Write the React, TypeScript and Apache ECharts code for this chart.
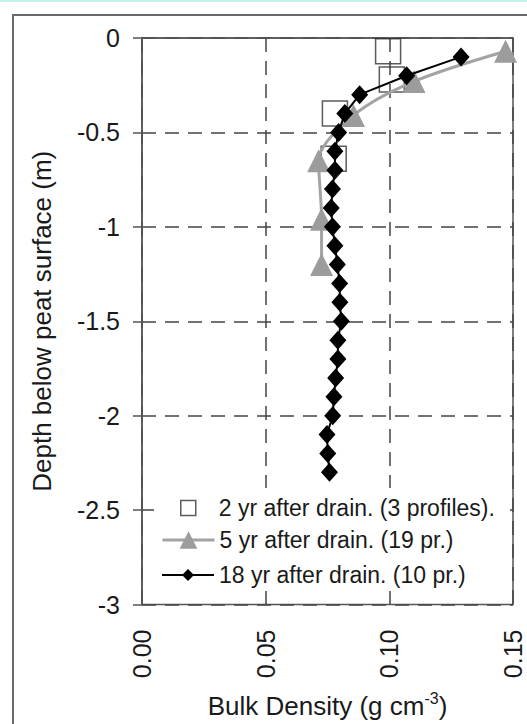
import React, { useEffect, useRef } from "react";
import * as echarts from "echarts";

// ---- data ----
const xTicks = [0, 0.05, 0.1, 0.15];
const yTicks = [0, -0.5, -1, -1.5, -2, -2.5, -3];

const seriesNames = [
  "2 yr after drain. (3 profiles).",
  "5 yr after drain. (19 pr.)",
  "18 yr after drain. (10 pr.)",
];

const twoYrDensity = [0.0995, 0.101, 0.078, 0.0775];
const twoYrDepth = [-0.07, -0.22, -0.4, -0.64];

const fiveYrDensity = [0.147, 0.110, 0.0855, 0.0714, 0.0726, 0.0726];
const fiveYrDepth = [-0.07, -0.23, -0.41, -0.65, -0.96, -1.2];

const eighteenYrDensity = [
  0.129, 0.107, 0.088, 0.082, 0.0795, 0.078, 0.078, 0.077, 0.0765, 0.077,
  0.078, 0.079, 0.0799, 0.08, 0.0806, 0.0792, 0.0792, 0.0783, 0.0776, 0.0771,
  0.0748, 0.0751, 0.0758,
];
const eighteenYrDepth = [
  -0.1, -0.2, -0.3, -0.4, -0.5, -0.6, -0.7, -0.8, -0.9, -1.0, -1.1, -1.2, -1.3,
  -1.4, -1.5, -1.6, -1.7, -1.8, -1.9, -2.0, -2.1, -2.2, -2.3,
];

const pair = (xs: number[], ys: number[]) => xs.map((x, i) => [x, ys[i]]);

const FONT = "Liberation Sans, Arial, sans-serif";
const TEXT = "#1a1a1a";
const FRAME = "#555555";

export default function App() {
  const ref = useRef<HTMLDivElement>(null);

  useEffect(() => {
    document.body.style.margin = "0";
    if (!ref.current) return;
    const chart = echarts.init(ref.current, undefined, { renderer: "svg" });

    const legendText = { fontFamily: FONT, fontSize: 23, color: TEXT, lineHeight: 26 };
    const legendBase = {
      orient: "vertical" as const,
      left: 161,
      itemWidth: 52,
      itemGap: 0,
      padding: 0,
      selectedMode: false,
      textStyle: legendText,
    };

    chart.setOption({
      animation: false,
      backgroundColor: "#ffffff",
      graphic: [
        {
          type: "rect",
          shape: { x: 0, y: 0, width: 527, height: 2 },
          style: { fill: "#c4f2ef" },
          silent: true,
        },
        {
          type: "polyline",
          shape: { points: [[13, 730], [13, 15], [540, 15]] },
          style: { stroke: "#6a6a6a", lineWidth: 2, fill: "none" },
          silent: true,
        },
        {
          type: "rect",
          z: 1,
          shape: { x: 154, y: 488, width: 355, height: 103 },
          style: { fill: "#ffffff" },
          silent: true,
        },
      ],
      grid: {
        left: 142,
        top: 38,
        width: 371,
        height: 567,
        show: true,
        borderColor: FRAME,
        borderWidth: 1.5,
        backgroundColor: "transparent",
      },
      legend: [
        {
          ...legendBase,
          left: 180,
          top: 495,
          itemWidth: 15,
          itemHeight: 15,
          textStyle: { ...legendText, padding: [0, 0, 0, 18] },
          data: [
            {
              name: seriesNames[0],
              icon: "rect",
              itemStyle: { color: "#ffffff", borderColor: "#333", borderWidth: 1.5 },
            },
          ],
        },
        {
          ...legendBase,
          top: 527,
          itemHeight: 22,
          lineStyle: { width: 3 },
          data: [{ name: seriesNames[1] }],
        },
        {
          ...legendBase,
          top: 562,
          itemHeight: 15,
          lineStyle: { width: 2 },
          data: [{ name: seriesNames[2] }],
        },
      ],
      xAxis: {
        type: "value",
        min: xTicks[0],
        max: xTicks[xTicks.length - 1],
        interval: 0.05,
        position: "bottom",
        name: "Bulk Density (g cm{sup|-3})",
        nameLocation: "middle",
        nameGap: 86,
        nameTextStyle: {
          fontFamily: FONT,
          fontSize: 26,
          color: TEXT,
          rich: {
            sup: { fontFamily: FONT, fontSize: 16, color: TEXT, padding: [0, 0, 15, 0] },
          },
        },
        axisLine: { show: true, lineStyle: { color: FRAME, width: 1.5 } },
        axisTick: { show: false },
        axisLabel: {
          rotate: 90,
          margin: 25,
          fontFamily: FONT,
          fontSize: 25,
          color: TEXT,
          formatter: (v: number) => v.toFixed(2),
        },
        splitLine: {
          show: true,
          lineStyle: { color: "#444", width: 1.5, type: [14, 9] },
        },
      },
      yAxis: {
        type: "value",
        min: yTicks[yTicks.length - 1],
        max: yTicks[0],
        interval: 0.5,
        name: "Depth below peat surface (m)",
        nameLocation: "middle",
        nameRotate: 90,
        nameGap: 87,
        nameTextStyle: { fontFamily: FONT, fontSize: 26, color: TEXT },
        axisLine: { show: true, lineStyle: { color: FRAME, width: 1.5 } },
        axisTick: { show: true, inside: false, length: 9, lineStyle: { color: FRAME, width: 1.5 } },
        axisLabel: {
          margin: 22,
          fontFamily: FONT,
          fontSize: 25,
          color: TEXT,
          formatter: (v: number) => String(v),
        },
        splitLine: {
          show: true,
          lineStyle: { color: "#444", width: 1.5, type: [14, 9] },
        },
      },
      series: [
        {
          name: seriesNames[0],
          type: "scatter",
          symbol: "rect",
          symbolSize: 25,
          z: 2,
          itemStyle: { color: "rgba(255,255,255,0)", borderColor: "#333", borderWidth: 1.5 },
          data: pair(twoYrDensity, twoYrDepth),
        },
        {
          name: seriesNames[1],
          type: "line",
          symbol: "triangle",
          symbolSize: 23,
          smooth: 0.3,
          z: 3,
          itemStyle: { color: "#9c9c9c" },
          lineStyle: { color: "#a3a3a3", width: 3 },
          data: pair(fiveYrDensity, fiveYrDepth),
        },
        {
          name: seriesNames[2],
          type: "line",
          symbol: "diamond",
          symbolSize: [17, 19],
          z: 4,
          itemStyle: { color: "#000000" },
          lineStyle: { color: "#000000", width: 2 },
          data: pair(eighteenYrDensity, eighteenYrDepth),
        },
      ],
    });

    return () => chart.dispose();
  }, []);

  return <div ref={ref} style={{ width: 527, height: 724 }} />;
}
